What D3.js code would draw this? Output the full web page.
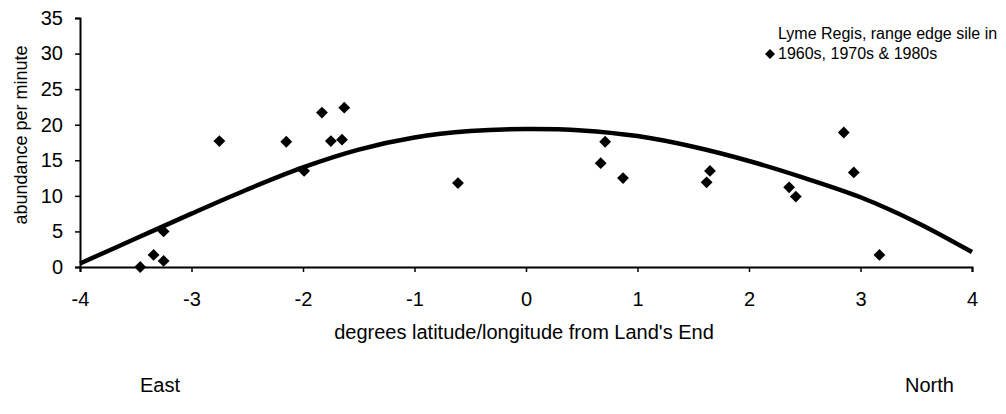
<!DOCTYPE html>
<html><head><meta charset="utf-8">
<script src="https://cdn.jsdelivr.net/npm/d3@7"></script>
<style>body{margin:0;background:#fff}svg{display:block}text{font-family:"Liberation Sans",Arial,sans-serif;fill:#000}</style>
</head><body><svg id="c" width="1006" height="414"></svg>
<script>
const pointX = [-3.46,-3.34,-3.25,-3.25,-2.75,-2.15,-1.99,-1.83,-1.75,-1.65,-1.63,-0.61,0.71,0.67,0.87,1.65,1.62,2.36,2.42,2.85,2.94,3.17];
const pointY = [0,1.7,0.85,5.0,17.7,17.6,13.5,21.7,17.7,17.9,22.4,11.8,17.6,14.6,12.5,13.5,11.9,11.2,9.9,18.9,13.3,1.7];
const curveX = [-4,-3.5,-3,-2.5,-2,-1.5,-1,-0.5,0,0.5,1,1.5,2,2.5,3,3.5,4];
const curveY = [0.5,4.0,7.5,10.9,14.0,16.5,18.2,19.1,19.4,19.2,18.4,16.9,14.9,12.5,9.8,6.3,2.1];
const xTicks = [-4,-3,-2,-1,0,1,2,3,4];
const yTicks = [0,5,10,15,20,25,30,35];

const svg = d3.select("#c");
const x = d3.scaleLinear().domain([-4,4]).range([80,972]);
const y = d3.scaleLinear().domain([0,35]).range([267,18]);

// axes
const ya = svg.append("g").attr("transform","translate(80,0)")
  .call(d3.axisLeft(y).tickValues(yTicks).tickFormat(d=>String(d)).tickSize(5).tickPadding(12));
const xa = svg.append("g").attr("transform","translate(0,267)")
  .call(d3.axisBottom(x).tickValues(xTicks).tickFormat(d=>String(d)).tickSize(5).tickPadding(20));
[ya,xa].forEach(a=>{
  a.select(".domain").attr("stroke","#000").attr("stroke-width",2);
  a.selectAll(".tick line").attr("stroke","#000").attr("stroke-width",1.5);
  a.selectAll(".tick text").attr("font-size",20).attr("font-family","Liberation Sans, Arial, sans-serif").attr("fill","#000");
});

// curve
const pts = curveX.map((v,i)=>[v,curveY[i]]);
svg.append("path").datum(pts)
  .attr("fill","none").attr("stroke","#000").attr("stroke-width",4.5)
  .attr("d", d3.line().x(d=>x(d[0])).y(d=>y(d[1])).curve(d3.curveCatmullRom));

// points
const sym = d3.symbol().type(d3.symbolSquare).size(70);
svg.append("g").selectAll("path").data(pointX.map((v,i)=>[v,pointY[i]])).join("path")
  .attr("d", sym)
  .attr("transform", d=>`translate(${x(d[0])},${y(d[1])}) rotate(45)`)
  .attr("fill","#000");

// labels
svg.append("text").attr("transform","translate(27,135) rotate(-90)")
  .attr("text-anchor","middle").attr("font-size",18).text("abundance per minute");
svg.append("text").attr("x",524).attr("y",339).attr("text-anchor","middle")
  .attr("font-size",20).text("degrees latitude/longitude from Land's End");
svg.append("text").attr("x",140).attr("y",392).attr("font-size",20).text("East");
svg.append("text").attr("x",905).attr("y",392).attr("font-size",20).text("North");

// legend
svg.append("path").attr("d", d3.symbol().type(d3.symbolSquare).size(50))
  .attr("transform","translate(770,54) rotate(45)").attr("fill","#000");
svg.append("text").attr("x",778).attr("y",39).attr("font-size",16).text("Lyme Regis, range edge sile in");
svg.append("text").attr("x",778).attr("y",59).attr("font-size",16).text("1960s, 1970s & 1980s");
</script></body></html>
